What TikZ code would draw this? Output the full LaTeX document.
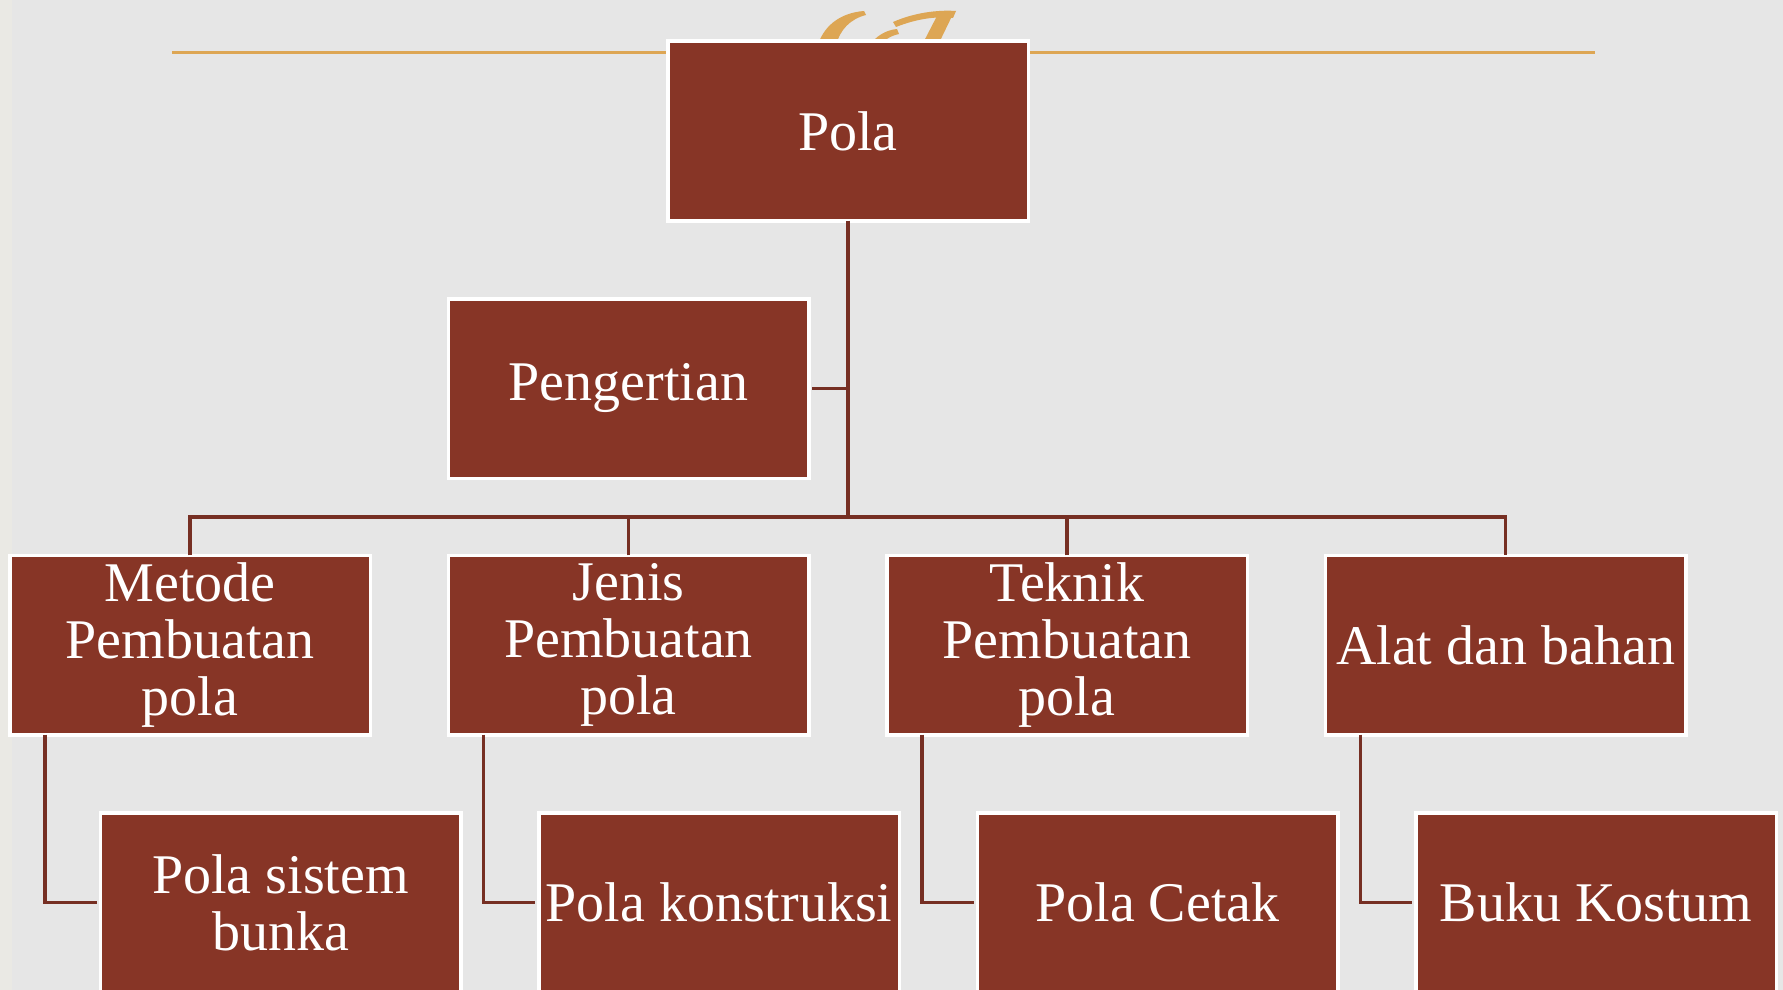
\documentclass[tikz,border=0pt]{standalone}
\usepackage{fontspec}
\setmainfont{Liberation Serif}
\definecolor{bgc}{RGB}{230,230,230}
\definecolor{edgec}{RGB}{234,233,228}
\definecolor{boxc}{RGB}{135,53,38}
\definecolor{linec}{RGB}{118,47,35}
\definecolor{goldc}{RGB}{221,166,84}
\tikzset{
  boxnode/.style={rectangle, fill=boxc, draw=white, line width=3.5pt,
    minimum width=360.5pt, minimum height=179.5pt, inner sep=0pt,
    text=white, align=center, font=\fontsize{56}{57}\selectfont},
  conn/.style={draw=linec, line width=3.2pt},
  goldline/.style={draw=goldc, line width=3pt}
}
\begin{document}
\begin{tikzpicture}[x=1pt,y=-1pt]
\useasboundingbox (0,0) rectangle (1783,990);
\clip (0,0) rectangle (1783,990);
\fill[bgc] (0,0) rectangle (1783,990);
\fill[edgec] (0,0) rectangle (12,990);
% gold title line and decoration
\draw[goldline] (172,52.3) -- (1595,52.3);
\fill[goldc] (864,11) .. controls (838,13) and (823,28) .. (818,45) -- (836,45) .. controls (840,30) and (850,19) .. (866,15) -- cycle;
\fill[goldc] (893,22) .. controls (918,11) and (943,10) .. (956,11) -- (953,18) .. controls (936,16) and (916,19) .. (896,27) -- cycle;
\fill[goldc] (938,14) -- (953,14) -- (938,45) -- (922,45) -- cycle;
\fill[goldc] (870,45) .. controls (876,36) and (886,30) .. (897,29) -- (899,34) .. controls (890,36) and (884,40) .. (882,45) -- cycle;
% nodes
\node[boxnode] (pola) at (848,131) {Pola};
\node[boxnode] (peng) at (628.5,388.5) {Pengertian};
\node[boxnode] (met) at (190,645) {Metode\\Pembuatan\\pola};
\node[boxnode] (jen) at (628.5,645) {Jenis\\Pembuatan\\pola};
\node[boxnode] (tek) at (1067,645) {Teknik\\Pembuatan\\pola};
\node[boxnode] (alat) at (1505.5,645) {Alat dan bahan};
\node[boxnode] (bunka) at (280.5,902.5) {Pola sistem\\bunka};
\node[boxnode] (kons) at (719,902.5) {Pola konstruksi};
\node[boxnode] (cetak) at (1157.5,902.5) {Pola Cetak};
\node[boxnode] (buku) at (1596,902.5) {Buku Kostum};
% connectors
\coordinate (bus) at (848,517);
\draw[conn] ([yshift=1.8pt]pola.south) -- (bus);
\draw[conn] ([xshift=1.8pt]peng.east) -- (peng.east -| pola.south);
\draw[conn] ([yshift=-1.8pt]met.north) |- (bus) -| ([yshift=-1.8pt]alat.north);
\draw[conn] ([yshift=-1.8pt]jen.north) -- (jen.north |- bus);
\draw[conn] ([yshift=-1.8pt]tek.north) -- (tek.north |- bus);
\draw[conn] ([xshift=-145pt,yshift=1.8pt]met.south) |- ([xshift=-1.8pt]bunka.west);
\draw[conn] ([xshift=-145pt,yshift=1.8pt]jen.south) |- ([xshift=-1.8pt]kons.west);
\draw[conn] ([xshift=-145pt,yshift=1.8pt]tek.south) |- ([xshift=-1.8pt]cetak.west);
\draw[conn] ([xshift=-145pt,yshift=1.8pt]alat.south) |- ([xshift=-1.8pt]buku.west);
\end{tikzpicture}
\end{document}
